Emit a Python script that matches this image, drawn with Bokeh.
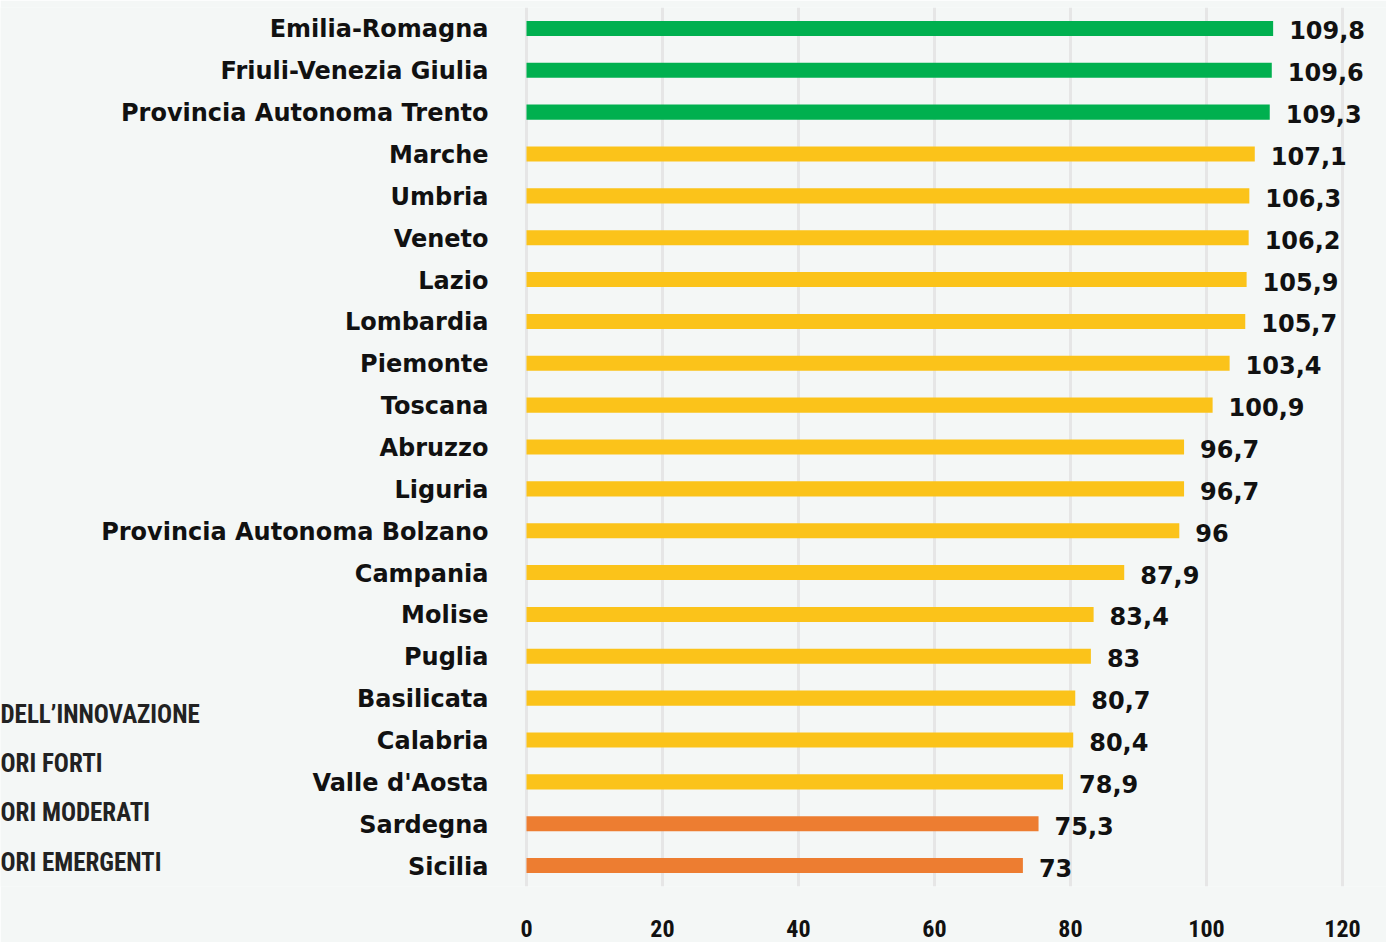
from bokeh.plotting import figure
from bokeh.models import ColumnDataSource, FixedTicker, Range1d
from bokeh.embed import file_html
from bokeh.resources import INLINE
from bokeh.core.properties import value

regions = ["Emilia-Romagna", "Friuli-Venezia Giulia", "Provincia Autonoma Trento",
           "Marche", "Umbria", "Veneto", "Lazio", "Lombardia", "Piemonte", "Toscana",
           "Abruzzo", "Liguria", "Provincia Autonoma Bolzano", "Campania", "Molise",
           "Puglia", "Basilicata", "Calabria", "Valle d'Aosta", "Sardegna", "Sicilia"]
values = [109.8, 109.6, 109.3, 107.1, 106.3, 106.2, 105.9, 105.7, 103.4, 100.9,
          96.7, 96.7, 96, 87.9, 83.4, 83, 80.7, 80.4, 78.9, 75.3, 73]
groups = ["forte"] * 3 + ["moderato"] * 16 + ["emergente"] * 2
legend_texts = ["DELL\u2019INNOVAZIONE", "ORI FORTI", "ORI MODERATI", "ORI EMERGENTI"]
x_ticks = [0, 20, 40, 60, 80, 100, 120]

palette = {"forte": "#00b04f", "moderato": "#fbc31a", "emergente": "#ed7d31"}
BG = "#f4f7f6"
NARROW = "Roboto Condensed, DejaVu Sans Condensed, Roboto, sans-serif"

n = len(regions)
ypos = [n - 1 - i for i in range(n)]
labels = [("%.1f" % v).replace(".", ",") if v != int(v) else str(int(v)) for v in values]
source = ColumnDataSource(dict(
    y=ypos, region=regions, value=values, label=labels,
    zero=[0] * n, color=[palette[g] for g in groups],
))

W, H = 1386, 942
px_per_unit = 6.8
zero_px = 526
frame_top = 7
frame_bottom = 886
x_start = -zero_px / px_per_unit
x_end = (W - zero_px) / px_per_unit
y_px = (frame_bottom - frame_top) / n  # pixels per row

p = figure(width=W, height=H, output_backend="svg", toolbar_location=None,
           x_range=Range1d(x_start, x_end), y_range=Range1d(-0.5, n - 0.5),
           min_border_left=0, min_border_right=0, min_border_top=frame_top,
           min_border_bottom=H - frame_bottom)
p.background_fill_color = BG
p.border_fill_color = BG
p.outline_line_color = None
p.yaxis.visible = False

p.hbar(y="y", right="value", left=0, height=0.36, color="color",
       line_color=None, source=source)
p.text(x="value", y="y", text="label", source=source,
       x_offset=16, y_offset=2, text_align="left", text_baseline="middle",
       text_font=value("DejaVu Sans"), text_font_style="bold",
       text_font_size="24px", text_color="#111111")
p.text(x="zero", y="y", text="region", source=source,
       x_offset=-38, y_offset=1, text_align="right", text_baseline="middle",
       text_font=value("DejaVu Sans"), text_font_style="bold",
       text_font_size="24px", text_color="#111111")

legend_y_px = [714, 763, 812, 862]
leg_src = ColumnDataSource(dict(
    x=[x_start] * len(legend_texts),
    y=[(frame_bottom - yy) / y_px - 0.5 for yy in legend_y_px],
    t=legend_texts,
))
p.text(x="x", y="y", text="t", source=leg_src, text_align="left", text_baseline="middle",
       text_font=value(NARROW), text_font_style="bold",
       text_font_size="25px", text_color="#222222")

p.xaxis.ticker = FixedTicker(ticks=x_ticks)
p.xgrid.ticker = FixedTicker(ticks=x_ticks)
p.xgrid.grid_line_color = "#e6e6e6"
p.xgrid.grid_line_width = 3
p.ygrid.grid_line_color = None
p.xaxis.axis_line_color = None
p.xaxis.major_tick_line_color = None
p.xaxis.minor_tick_line_color = None
p.xaxis.major_label_standoff = 27
p.xaxis.major_label_text_font = NARROW
p.xaxis.major_label_text_font_style = "bold"
p.xaxis.major_label_text_font_size = "24px"
p.xaxis.major_label_text_color = "#111111"

open("out.html", "w").write(file_html(p, INLINE))
